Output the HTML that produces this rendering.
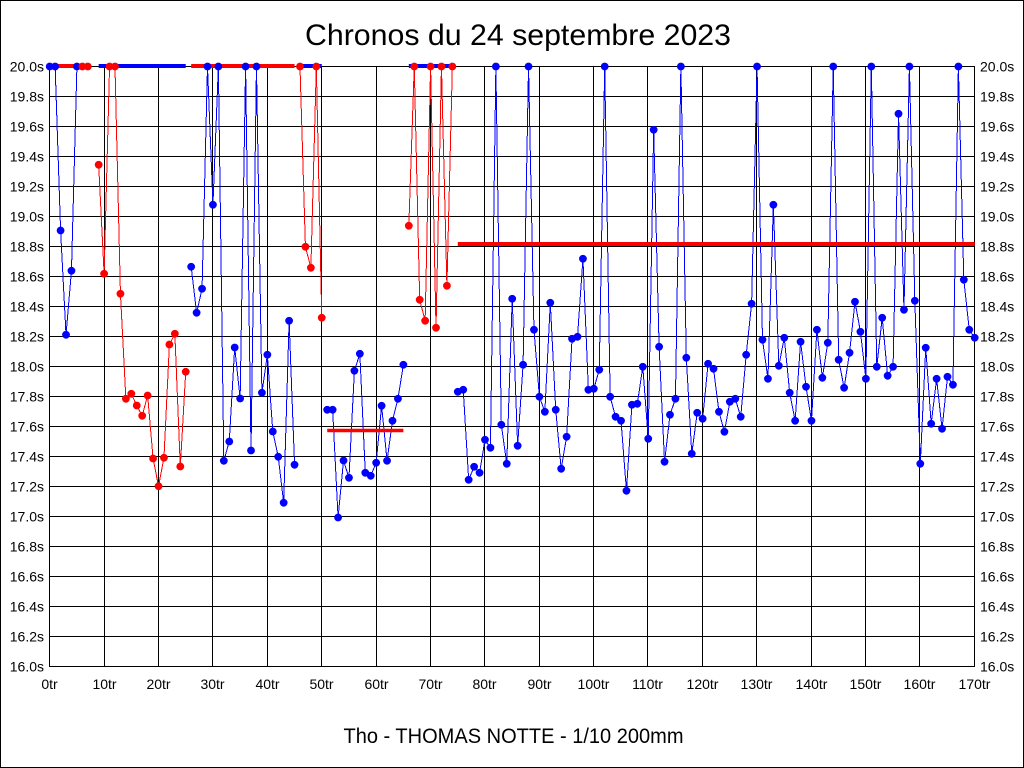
<!DOCTYPE html>
<html>
<head>
<meta charset="utf-8">
<style>
html,body{margin:0;padding:0;background:#fff;}
svg{display:block;}
text{font-family:"Liberation Sans",Arial,sans-serif;fill:#000;}
</style>
</head>
<body>
<svg width="1024" height="768" viewBox="0 0 1024 768" xmlns="http://www.w3.org/2000/svg">
<defs>
<marker id="mb" markerWidth="10" markerHeight="10" refX="5" refY="5" markerUnits="userSpaceOnUse"><circle cx="5" cy="5" r="3.9" fill="#0000ff"/></marker>
<marker id="mr" markerWidth="10" markerHeight="10" refX="5" refY="5" markerUnits="userSpaceOnUse"><circle cx="5" cy="5" r="3.9" fill="#ff0000"/></marker>
</defs>
<rect x="0" y="0" width="1024" height="768" fill="#fff"/>
<rect x="0.5" y="0.5" width="1023" height="767" fill="none" stroke="#000" stroke-width="1"/>

<text x="305" y="45" font-size="30" textLength="426" lengthAdjust="spacingAndGlyphs">Chronos du 24 septembre 2023</text>
<text x="343.5" y="743" font-size="21" textLength="340" lengthAdjust="spacingAndGlyphs">Tho - THOMAS NOTTE - 1/10 200mm</text>

<g stroke="#000" stroke-width="1" shape-rendering="crispEdges">
<line x1="49" y1="66.5" x2="975" y2="66.5"/>
<line x1="49" y1="96.5" x2="975" y2="96.5"/>
<line x1="49" y1="126.5" x2="975" y2="126.5"/>
<line x1="49" y1="156.5" x2="975" y2="156.5"/>
<line x1="49" y1="186.5" x2="975" y2="186.5"/>
<line x1="49" y1="216.5" x2="975" y2="216.5"/>
<line x1="49" y1="246.5" x2="975" y2="246.5"/>
<line x1="49" y1="276.5" x2="975" y2="276.5"/>
<line x1="49" y1="306.5" x2="975" y2="306.5"/>
<line x1="49" y1="336.5" x2="975" y2="336.5"/>
<line x1="49" y1="366.5" x2="975" y2="366.5"/>
<line x1="49" y1="396.5" x2="975" y2="396.5"/>
<line x1="49" y1="426.5" x2="975" y2="426.5"/>
<line x1="49" y1="456.5" x2="975" y2="456.5"/>
<line x1="49" y1="486.5" x2="975" y2="486.5"/>
<line x1="49" y1="516.5" x2="975" y2="516.5"/>
<line x1="49" y1="546.5" x2="975" y2="546.5"/>
<line x1="49" y1="576.5" x2="975" y2="576.5"/>
<line x1="49" y1="606.5" x2="975" y2="606.5"/>
<line x1="49" y1="636.5" x2="975" y2="636.5"/>
<line x1="49" y1="666.5" x2="975" y2="666.5"/>
<line x1="49.5" y1="66" x2="49.5" y2="667"/>
<line x1="104.5" y1="66" x2="104.5" y2="667"/>
<line x1="158.5" y1="66" x2="158.5" y2="667"/>
<line x1="212.5" y1="66" x2="212.5" y2="667"/>
<line x1="267.5" y1="66" x2="267.5" y2="667"/>
<line x1="321.5" y1="66" x2="321.5" y2="667"/>
<line x1="376.5" y1="66" x2="376.5" y2="667"/>
<line x1="430.5" y1="66" x2="430.5" y2="667"/>
<line x1="484.5" y1="66" x2="484.5" y2="667"/>
<line x1="539.5" y1="66" x2="539.5" y2="667"/>
<line x1="593.5" y1="66" x2="593.5" y2="667"/>
<line x1="647.5" y1="66" x2="647.5" y2="667"/>
<line x1="702.5" y1="66" x2="702.5" y2="667"/>
<line x1="756.5" y1="66" x2="756.5" y2="667"/>
<line x1="811.5" y1="66" x2="811.5" y2="667"/>
<line x1="865.5" y1="66" x2="865.5" y2="667"/>
<line x1="919.5" y1="66" x2="919.5" y2="667"/>
<line x1="974.5" y1="66" x2="974.5" y2="667"/>
</g>

<g font-size="14" text-anchor="end">
<text x="44" y="71.5">20.0s</text>
<text x="44" y="101.5">19.8s</text>
<text x="44" y="131.5">19.6s</text>
<text x="44" y="161.5">19.4s</text>
<text x="44" y="191.5">19.2s</text>
<text x="44" y="221.5">19.0s</text>
<text x="44" y="251.5">18.8s</text>
<text x="44" y="281.5">18.6s</text>
<text x="44" y="311.5">18.4s</text>
<text x="44" y="341.5">18.2s</text>
<text x="44" y="371.5">18.0s</text>
<text x="44" y="401.5">17.8s</text>
<text x="44" y="431.5">17.6s</text>
<text x="44" y="461.5">17.4s</text>
<text x="44" y="491.5">17.2s</text>
<text x="44" y="521.5">17.0s</text>
<text x="44" y="551.5">16.8s</text>
<text x="44" y="581.5">16.6s</text>
<text x="44" y="611.5">16.4s</text>
<text x="44" y="641.5">16.2s</text>
<text x="44" y="671.5">16.0s</text>
</g>
<g font-size="14" text-anchor="start">
<text x="980" y="71.5">20.0s</text>
<text x="980" y="101.5">19.8s</text>
<text x="980" y="131.5">19.6s</text>
<text x="980" y="161.5">19.4s</text>
<text x="980" y="191.5">19.2s</text>
<text x="980" y="221.5">19.0s</text>
<text x="980" y="251.5">18.8s</text>
<text x="980" y="281.5">18.6s</text>
<text x="980" y="311.5">18.4s</text>
<text x="980" y="341.5">18.2s</text>
<text x="980" y="371.5">18.0s</text>
<text x="980" y="401.5">17.8s</text>
<text x="980" y="431.5">17.6s</text>
<text x="980" y="461.5">17.4s</text>
<text x="980" y="491.5">17.2s</text>
<text x="980" y="521.5">17.0s</text>
<text x="980" y="551.5">16.8s</text>
<text x="980" y="581.5">16.6s</text>
<text x="980" y="611.5">16.4s</text>
<text x="980" y="641.5">16.2s</text>
<text x="980" y="671.5">16.0s</text>
</g>
<g font-size="14" text-anchor="middle">
<text x="49.5" y="689">0tr</text>
<text x="104.5" y="689">10tr</text>
<text x="158.5" y="689">20tr</text>
<text x="212.5" y="689">30tr</text>
<text x="267.5" y="689">40tr</text>
<text x="321.5" y="689">50tr</text>
<text x="376.5" y="689">60tr</text>
<text x="430.5" y="689">70tr</text>
<text x="484.5" y="689">80tr</text>
<text x="539.5" y="689">90tr</text>
<text x="593.5" y="689">100tr</text>
<text x="647.5" y="689">110tr</text>
<text x="702.5" y="689">120tr</text>
<text x="756.5" y="689">130tr</text>
<text x="811.5" y="689">140tr</text>
<text x="865.5" y="689">150tr</text>
<text x="919.5" y="689">160tr</text>
<text x="974.5" y="689">170tr</text>
</g>

<g transform="translate(0.7,0.5)">
<g fill="none" stroke-width="1" shape-rendering="crispEdges">
<polyline stroke="#0000ff" points="49,66 54.44,66 59.88,230 65.32,334.3 70.76,270.3 76.21,66"/>
<polyline stroke="#ff0000" points="81.65,66 87.09,66"/>
<polyline stroke="#ff0000" points="97.97,164.3 103.41,273.3 108.85,66 114.29,66 119.74,293.3 125.18,398.3 130.62,393.3 136.06,405 141.5,415.3 146.94,395 152.38,458 157.82,485.7 163.26,457.3 168.71,344 174.15,333.3 179.59,466 185.03,371.3"/>
<polyline stroke="#0000ff" points="190.47,266.3 195.91,312.3 201.35,288.3 206.79,66 212.24,204.3 217.68,66 223.12,460.3 228.56,441 234,347 239.44,398 244.88,66 250.32,450 255.76,66 261.21,392.3 266.65,354.3 272.09,431 277.53,456.3 282.97,502.3 288.41,320.3 293.85,464.3"/>
<polyline stroke="#ff0000" points="299.29,66 304.74,246.3 310.18,267.3 315.62,66 321.06,317.3"/>
<polyline stroke="#0000ff" points="326.5,409.3 331.94,409.3 337.38,517 342.82,460 348.26,477.3 353.71,370.3 359.15,353.3 364.59,472.3 370.03,475.3 375.47,462.3 380.91,405.3 386.35,460.3 391.79,420.3 397.24,398.3 402.68,364.3"/>
<polyline stroke="#ff0000" points="408.12,225.3 413.56,66 419,299.3 424.44,320.3 429.88,66 435.32,327.3 440.76,66 446.21,285.3 451.65,66"/>
<polyline stroke="#0000ff" points="457.09,391.3 462.53,389.3 467.97,479.3 473.41,466.3 478.85,472.3 484.29,439.3 489.74,447.3 495.18,66 500.62,424.3 506.06,463.3 511.5,298.3 516.94,445.3 522.38,364.3 527.82,66 533.26,329.3 538.71,396.3 544.15,411.3 549.59,302.3 555.03,409.3 560.47,468.3 565.91,436.3 571.35,338.3 576.79,336.3 582.24,258.3 587.68,389.3 593.12,388.3 598.56,369.3 604,66 609.44,396.3 614.88,416.3 620.32,420.3 625.76,490.3 631.21,404.3 636.65,403.3 642.09,366.3 647.53,438.3 652.97,129.3 658.41,346.3 663.85,461.3 669.29,414.3 674.74,398.3 680.18,66 685.62,357.3 691.06,453.3 696.5,412.3 701.94,418.3 707.38,363.3 712.82,368.3 718.26,411.3 723.71,431.3 729.15,401.3 734.59,398.3 740.03,416.3 745.47,354.3 750.91,303.3 756.35,66 761.79,339.3 767.24,378.3 772.68,204.3 778.12,365.3 783.56,337.3 789,392.3 794.44,420.3 799.88,341.3 805.32,386.3 810.76,420.3 816.21,329.3 821.65,377.3 827.09,342.3 832.53,66 837.97,359.3 843.41,387.3 848.85,352.3 854.29,301.3 859.74,331.3 865.18,378.3 870.62,66 876.06,366.3 881.5,317.3 886.94,375.3 892.38,366.3 897.82,113.3 903.26,309.3 908.71,66 914.15,300.3 919.59,463.3 925.03,347.3 930.47,423.3 935.91,378.3 941.35,428.3 946.79,376.3 952.24,384.3 957.68,66 963.12,279.3 968.56,329.3 974,337.3"/>
</g>

<g stroke-width="4" fill="none">
<line x1="49" y1="65.5" x2="76.21" y2="65.5" stroke="#ff0000"/>
<line x1="81.65" y1="65.5" x2="87.09" y2="65.5" stroke="#0000ff"/>
<line x1="97.97" y1="65.5" x2="185.03" y2="65.5" stroke="#0000ff"/>
<line x1="190.47" y1="65.5" x2="293.85" y2="65.5" stroke="#ff0000"/>
<line x1="299.29" y1="65.5" x2="321.06" y2="65.5" stroke="#0000ff"/>
<line x1="326.5" y1="430" x2="402.68" y2="430" stroke="#ff0000" stroke-width="3.5"/>
<line x1="408.12" y1="65.5" x2="451.65" y2="65.5" stroke="#0000ff"/>
<line x1="457.09" y1="243.5" x2="974" y2="243.5" stroke="#ff0000"/>
</g>

<polyline fill="none" stroke="none" marker-start="url(#mb)" marker-mid="url(#mb)" marker-end="url(#mb)" points="49,66 54.44,66 59.88,230 65.32,334.3 70.76,270.3 76.21,66"/>
<polyline fill="none" stroke="none" marker-start="url(#mr)" marker-mid="url(#mr)" marker-end="url(#mr)" points="81.65,66 87.09,66"/>
<polyline fill="none" stroke="none" marker-start="url(#mr)" marker-mid="url(#mr)" marker-end="url(#mr)" points="97.97,164.3 103.41,273.3 108.85,66 114.29,66 119.74,293.3 125.18,398.3 130.62,393.3 136.06,405 141.5,415.3 146.94,395 152.38,458 157.82,485.7 163.26,457.3 168.71,344 174.15,333.3 179.59,466 185.03,371.3"/>
<polyline fill="none" stroke="none" marker-start="url(#mb)" marker-mid="url(#mb)" marker-end="url(#mb)" points="190.47,266.3 195.91,312.3 201.35,288.3 206.79,66 212.24,204.3 217.68,66 223.12,460.3 228.56,441 234,347 239.44,398 244.88,66 250.32,450 255.76,66 261.21,392.3 266.65,354.3 272.09,431 277.53,456.3 282.97,502.3 288.41,320.3 293.85,464.3"/>
<polyline fill="none" stroke="none" marker-start="url(#mr)" marker-mid="url(#mr)" marker-end="url(#mr)" points="299.29,66 304.74,246.3 310.18,267.3 315.62,66 321.06,317.3"/>
<polyline fill="none" stroke="none" marker-start="url(#mb)" marker-mid="url(#mb)" marker-end="url(#mb)" points="326.5,409.3 331.94,409.3 337.38,517 342.82,460 348.26,477.3 353.71,370.3 359.15,353.3 364.59,472.3 370.03,475.3 375.47,462.3 380.91,405.3 386.35,460.3 391.79,420.3 397.24,398.3 402.68,364.3"/>
<polyline fill="none" stroke="none" marker-start="url(#mr)" marker-mid="url(#mr)" marker-end="url(#mr)" points="408.12,225.3 413.56,66 419,299.3 424.44,320.3 429.88,66 435.32,327.3 440.76,66 446.21,285.3 451.65,66"/>
<polyline fill="none" stroke="none" marker-start="url(#mb)" marker-mid="url(#mb)" marker-end="url(#mb)" points="457.09,391.3 462.53,389.3 467.97,479.3 473.41,466.3 478.85,472.3 484.29,439.3 489.74,447.3 495.18,66 500.62,424.3 506.06,463.3 511.5,298.3 516.94,445.3 522.38,364.3 527.82,66 533.26,329.3 538.71,396.3 544.15,411.3 549.59,302.3 555.03,409.3 560.47,468.3 565.91,436.3 571.35,338.3 576.79,336.3 582.24,258.3 587.68,389.3 593.12,388.3 598.56,369.3 604,66 609.44,396.3 614.88,416.3 620.32,420.3 625.76,490.3 631.21,404.3 636.65,403.3 642.09,366.3 647.53,438.3 652.97,129.3 658.41,346.3 663.85,461.3 669.29,414.3 674.74,398.3 680.18,66 685.62,357.3 691.06,453.3 696.5,412.3 701.94,418.3 707.38,363.3 712.82,368.3 718.26,411.3 723.71,431.3 729.15,401.3 734.59,398.3 740.03,416.3 745.47,354.3 750.91,303.3 756.35,66 761.79,339.3 767.24,378.3 772.68,204.3 778.12,365.3 783.56,337.3 789,392.3 794.44,420.3 799.88,341.3 805.32,386.3 810.76,420.3 816.21,329.3 821.65,377.3 827.09,342.3 832.53,66 837.97,359.3 843.41,387.3 848.85,352.3 854.29,301.3 859.74,331.3 865.18,378.3 870.62,66 876.06,366.3 881.5,317.3 886.94,375.3 892.38,366.3 897.82,113.3 903.26,309.3 908.71,66 914.15,300.3 919.59,463.3 925.03,347.3 930.47,423.3 935.91,378.3 941.35,428.3 946.79,376.3 952.24,384.3 957.68,66 963.12,279.3 968.56,329.3 974,337.3"/>
</g>
</svg>
</body>
</html>
